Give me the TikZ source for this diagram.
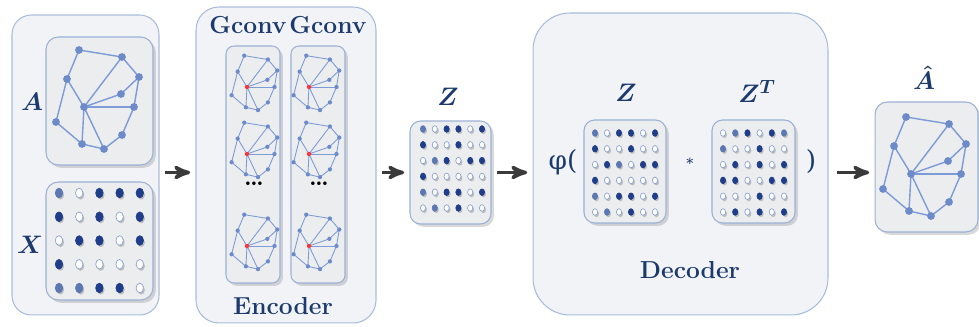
\documentclass[tikz,border=0pt]{standalone}
\usepackage{fontspec}
\usepackage{tikz}
\usetikzlibrary{arrows,shadows}
\newfontfamily\opfont{DejaVu Serif}

\definecolor{panelfill}{HTML}{F1F3F7}
\definecolor{paneledge}{HTML}{A9BCDA}
\definecolor{boxfill}{HTML}{ECEDEF}
\definecolor{boxedge}{HTML}{9CB1D6}
\definecolor{gline}{HTML}{7D9BD6}
\definecolor{gdot}{HTML}{6E8BC9}
\definecolor{navy}{HTML}{1C3A6C}
\definecolor{arrowgrey}{HTML}{3A3A3A}
% dot colours: 0 white, 1 medium, 2 dark
\definecolor{dotc0}{HTML}{FFFFFF}
\definecolor{dotc1}{HTML}{5C78B2}
\definecolor{dotc2}{HTML}{1F3D89}
\definecolor{dote0}{HTML}{8DA4D0}
\definecolor{dote1}{HTML}{5C78B2}
\definecolor{dote2}{HTML}{1F3D89}

\tikzset{
  panel/.style={draw=paneledge, fill=panelfill, line width=.6pt,
    rounded corners=#1, inner sep=0pt},
  box/.style={draw=boxedge, fill=boxfill, line width=.6pt, rounded corners=#1,
    inner sep=0pt, drop shadow={shadow xshift=1.6pt, shadow yshift=-1.6pt, opacity=.3}},
  lbl/.style={text=navy, font=\fontsize{14}{16}\selectfont\bfseries},
  mlbl/.style={text=navy, font=\fontsize{15}{17}\selectfont\boldmath},
  optxt/.style={text=navy, font=\opfont\fontsize{15}{18}\selectfont},
  flow/.style={->, >=stealth', line width=2pt, draw=arrowgrey,
    shorten <=3pt, shorten >=3pt},
  gedge/.style={draw=gline, line width=.8pt},
  gnode/.style={fill=gdot},
  gcentre/.style={fill=gdot},
  dotshade/.style={fill=black, opacity=.2},
  gdx/.store in=\gdx, gdy/.store in=\gdy,
  grx/.store in=\grx, gry/.store in=\gry,
  gdx=12, gdy=16, grx=2.6, gry=3.3,
  % small graph, coordinates around its hub (-c)
  graph/.pic={
    \foreach \n/\x/\y in {1/-5/-57, 2/38/-50, 3/-17/-28, 4/55/-30, 5/37/-13,
        c/0/0, 7/50/0, 8/-28/15, 9/38/28, 10/-2/37, 11/20/42}
      \coordinate (-\n) at (\x,\y);
    \foreach \a/\b in {1/2, 1/3, 2/4, 2/c, 3/c, 3/8, 4/5, 5/c, 4/7, c/7,
        7/9, 9/11, c/11, c/10, 8/10, 10/11}
      \draw[gedge] (-\a) -- (-\b);
    \foreach \n in {1,2,3,4,5,7,8,9,10,11}
      \fill[gnode] (-\n) circle (3.9);
    \fill[gcentre] (-c) circle (3.9);
  },
  % matrix of dots, one brace group per row
  dotgrid/.pic={
    \foreach \row [count=\j from 0] in {#1} {
      \foreach \v [count=\i from 0] in \row {
        \fill[dotshade] (\i*\gdx+1.4, \j*\gdy+1.8) ellipse [x radius=\grx, y radius=\gry];
        \filldraw[fill=dotc\v, draw=dote\v, line width=.4pt]
          (\i*\gdx, \j*\gdy) ellipse [x radius=\grx, y radius=\gry];
      }
    }
  }
}

\begin{document}
\begin{tikzpicture}[x=0.02cm, y=-0.02cm]
  \useasboundingbox (0,0) rectangle (979,327);

  % panels
  \node[panel=11pt, minimum width=2.94cm, minimum height=6cm] (inp) at (85.5,165) {};
  \node[panel=13pt, minimum width=3.6cm, minimum height=6.32cm] (enc) at (286,165) {};
  \node[panel=21pt, minimum width=5.9cm, minimum height=6.04cm] (dec) at (680.5,164) {};

  % inner boxes
  \node[box=7pt, minimum width=2.14cm, minimum height=2.56cm] (abox) at (99.5,101) {};
  \node[box=7pt, minimum width=2.14cm, minimum height=2.36cm] (xbox) at (99.5,241) {};
  \node[box=4.5pt, minimum width=1.08cm, minimum height=4.74cm] (col1) at (253,164.5) {};
  \node[box=4.5pt, minimum width=1.08cm, minimum height=4.74cm] (col2) at (318,164.5) {};
  \node[box=6pt, minimum width=1.62cm, minimum height=2.06cm] (zb) at (450.5,172.5) {};
  \node[box=6pt, minimum width=1.64cm, minimum height=2.06cm] (dz) at (625,171.5) {};
  \node[box=6pt, minimum width=1.66cm, minimum height=2.06cm] (dzt) at (753.5,171.5) {};
  \node[box=7pt, minimum width=2.06cm, minimum height=2.6cm] (ahat) at (926.5,167) {};

  % graphs
  \pic (ga) at (84,107) {graph};
  \pic (gh) at (911,174) {graph};
  \foreach \y [count=\k] in {87,154,246} {
    \pic[scale=.55, gcentre/.style={fill=red!80}, gedge/.append style={line width=.5pt}]
      (ea\k) at (247,\y) {graph};
    \pic[scale=.55, gcentre/.style={fill=red!80}, gedge/.append style={line width=.5pt}]
      (eb\k) at (309,\y) {graph};
  }
  \node[font=\fontsize{14}{16}\selectfont\bfseries] (dots1) at (254,184) {\ldots};
  \node[font=\fontsize{14}{16}\selectfont\bfseries] (dots2) at (319,184) {\ldots};

  % feature matrices
  \pic[gdx=20.2, gdy=23.75, grx=3.7, gry=4.8] (mx) at (59,193)
    {dotgrid={{1,0,2,2,2},{2,0,2,0,2},{0,2,2,0,2},{2,0,0,0,0},{1,1,2,2,0}}};
  \pic[gdx=11.8, gdy=15.8] (mz) at (423,129)
    {dotgrid={{1,0,2,2,0,2},{2,0,0,2,0,0},{0,1,2,0,2,2},{2,0,0,0,0,0},{1,0,2,2,0,2},{0,1,0,2,0,0}}};
  \pic[gdx=12, gdy=15.8] (mdz) at (595,133)
    {dotgrid={{1,0,2,2,0,2},{2,0,0,2,0,0},{0,2,1,0,2,2},{2,0,0,0,0,0},{1,0,2,2,0,2},{0,1,0,2,0,0}}};
  \pic[gdx=12.2, gdy=15.8] (mdzt) at (723,133)
    {dotgrid={{0,1,2,0,2,1},{1,0,0,2,0,0},{0,2,0,2,0,2},{2,2,0,0,2,2},{0,0,0,2,0,0},{0,2,0,2,0,2}}};

  % labels
  \node[mlbl] (la) at (32,102) {$A$};
  \node[mlbl] (lx) at (30,245) {$X$};
  \node[lbl] (gc1) at (248,25) {Gconv};
  \node[lbl] (gc2) at (328,25) {Gconv};
  \node[lbl] (lenc) at (283,306) {Encoder};
  \node[mlbl] (lz) at (448,97) {$Z$};
  \node[mlbl] (ldz) at (626,93) {$Z$};
  \node[mlbl] (ldzt) at (757,91) {$Z^T$};
  \node[mlbl, inner sep=1pt] (lah) at (924,78) {$\hat{A}$};
  \node[lbl] (ldec) at (690,270) {Decoder};
  \node[optxt] (phi) at (563,162) {φ(};
  \node[optxt, font=\opfont\fontsize{8}{10}\selectfont] (mul) at (690,163) {*};
  \node[optxt] (rpar) at (811,162) {)};

  % data flow
  \draw[flow] (inp.east |- zb) -- (enc.west |- zb);
  \draw[flow] (enc.east |- zb) -- (zb.west);
  \draw[flow] (zb.east) -- (dec.west |- zb);
  \draw[flow, shorten <=5pt] (dec.east |- zb) -- (ahat.west |- zb);
\end{tikzpicture}
\end{document}
